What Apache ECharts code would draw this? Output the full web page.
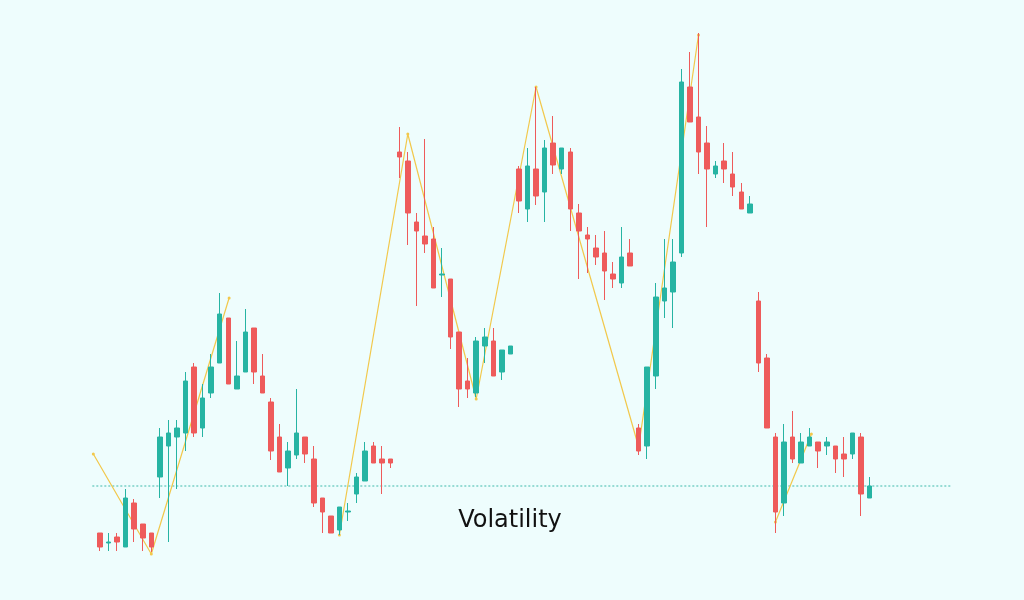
<!DOCTYPE html>
<html>
<head>
<meta charset="utf-8">
<script src="https://cdn.jsdelivr.net/npm/echarts@6/dist/echarts.min.js"></script>
<style>
html,body{margin:0;padding:0;background:#eefdfd;}
#chart{width:1024px;height:600px;}
</style>
</head>
<body>
<div id="chart"></div>
<script>
// Sessions (categories)
const sessions = Array.from({length: 91}, (_, i) => 'S' + (i + 1));

// Candle values (price units)
const opens = [67,57,63,53,97,76,67,123,154,163,167,233,172,207,237,282,211,228,272,224,198,163,132,145,163,141,102,84,70,88,106,119,154,141,141,448,439,378,364,361,325,321,268,219,207,254,259,228,246,431,391,431,408,457,431,448,387,365,352,347,326,317,347,172,154,224,299,308,347,513,483,457,426,439,426,408,387,299,242,163,97,163,137,154,158,154,154,146,146,163,102];
const closes = [53,58,58,102,71,62,53,163,167,172,219,167,202,233,286,216,224,268,228,207,149,128,149,167,146,97,88,67,93,89,123,149,137,137,137,443,387,369,356,312,326,263,211,211,259,263,224,250,254,399,434,404,452,435,452,391,369,361,343,329,321,343,334,149,233,303,312,338,518,478,448,431,434,431,413,391,396,237,172,88,158,141,158,163,149,158,141,141,167,106,114];
const lows = [49,49,49,53,58,49,48,102,58,111,149,163,163,202,237,216,211,228,216,207,140,128,114,141,137,93,67,67,65,79,97,119,137,106,132,422,355,294,347,312,303,251,193,202,203,237,224,220,246,387,378,395,378,426,426,369,321,327,335,300,312,312,334,145,141,211,282,272,343,478,426,373,422,417,404,391,387,228,172,67,84,137,137,154,132,145,127,123,141,84,102];
const highs = [67,67,67,111,101,76,67,172,180,180,228,237,216,246,307,282,259,291,272,246,202,176,158,211,163,154,102,84,93,97,127,158,158,154,141,473,448,387,461,373,352,321,268,242,263,272,272,250,254,434,452,513,460,484,452,452,396,373,365,369,338,373,361,176,233,317,361,361,531,548,567,474,439,457,448,417,404,308,246,167,176,189,167,172,158,163,154,163,167,167,123];

// Zigzag swing line points: [session index, price]
const zigzagA = [[-0.78,146],[6,46],[15.1,302]];
const zigzagB = [[28,65],[36,466],[44,201],[51,513],[63,153],[70,565]];
const zigzagC = [[79,78],[83.2,166]];

// Reference level (dotted line)
const baseLevel = 114;
const baseSpan = [-0.9, 99.6];

const titleText = 'Volatility';

const candles = opens.map((o, i) => [o, closes[i], lows[i], highs[i]]);

const UP = '#26b4a3', DOWN = '#ee5b5b', ZIG = '#f2c84b';

// Layout: candle band geometry
const firstCenter = 100, band = 8.55, nCat = sessions.length;
const gridLeft = firstCenter - band / 2, gridWidth = band * nCat;
// full-width overlay grid mapped to same session index scale
const ovMin = -firstCenter / band, ovMax = (1024 - firstCenter) / band;

const chart = echarts.init(document.getElementById('chart'), null, {renderer: 'canvas'});

function zigSeries(data) {
  return {
    type: 'line', xAxisIndex: 1, yAxisIndex: 1, data: data,
    symbol: 'circle', symbolSize: 3, showSymbol: true,
    itemStyle: {color: ZIG},
    lineStyle: {color: ZIG, width: 1.2},
    z: 1, silent: true
  };
}

chart.setOption({
  animation: false,
  backgroundColor: '#eefdfd',
  grid: [
    {left: gridLeft, width: gridWidth, top: 0, height: 600},
    {left: 0, width: 1024, top: 0, height: 600}
  ],
  xAxis: [
    {type: 'category', gridIndex: 0, data: sessions, show: false, boundaryGap: true},
    {type: 'value', gridIndex: 1, min: ovMin, max: ovMax, show: false}
  ],
  yAxis: [
    {type: 'value', gridIndex: 0, min: 0, max: 600, show: false},
    {type: 'value', gridIndex: 1, min: 0, max: 600, show: false}
  ],
  series: [
    {
      type: 'line', xAxisIndex: 1, yAxisIndex: 1, silent: true, symbol: 'none',
      data: [[baseSpan[0], baseLevel], [baseSpan[1], baseLevel]],
      lineStyle: {color: '#3fb9ab', width: 1, type: [2, 2]}, z: 0
    },
    zigSeries(zigzagA),
    zigSeries(zigzagB),
    zigSeries(zigzagC),
    {
      type: 'candlestick', xAxisIndex: 0, yAxisIndex: 0, data: candles, barWidth: 5, z: 3,
      itemStyle: {color: UP, color0: DOWN, borderColor: UP, borderColor0: DOWN, borderWidth: 1}
    }
  ],
  graphic: [{
    type: 'text', x: 510, y: 521, z: 10,
    style: {text: titleText, align: 'center', verticalAlign: 'middle', font: '500 24px "DejaVu Sans"', fill: '#111111'}
  }]
});
</script>
</body>
</html>
